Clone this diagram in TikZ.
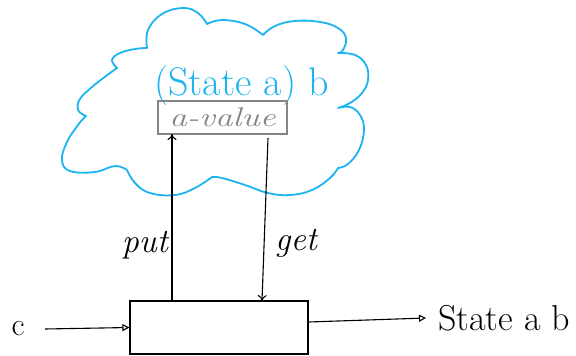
\documentclass[tikz,border=0pt]{standalone}
\usepackage{fontspec}
\setmainfont{Latin Modern Roman}
\usetikzlibrary{arrows.meta}
\definecolor{cloudblue}{HTML}{1CB4F0}
\definecolor{boxgray}{HTML}{858585}
\begin{document}
\begin{tikzpicture}[x=1pt,y=-1pt,
  wire/.style={draw=black,line width=1.1pt},
  opentip/.style={-{Triangle[open,length=7pt,width=7pt]}},
  sticktip/.style={-{To[length=6pt,width=9pt]}},
  lbl/.style={font=\fontsize{34}{38}\selectfont\itshape}]
\useasboundingbox (0,0) rectangle (576,356);
% cloud
\draw[cloudblue, line width=1.8pt, line join=round, line cap=round]
  plot[smooth, tension=0.7] coordinates {(147,48) (148,30) (162,14) (183,8) (198,13) (207,24)}
  -- plot[smooth, tension=0.7] coordinates {(207,24) (222,20) (245,24) (263,35)}
  -- plot[smooth, tension=0.7] coordinates {(263,35) (275,26) (295,21) (320,22) (338,28) (346,38) (343,50) (338,53)}
  -- plot[smooth, tension=0.7] coordinates {(338,53) (355,55) (366,65) (368,80) (362,93) (350,103) (338,108)}
  -- plot[smooth, tension=0.7] coordinates {(338,108) (350,107) (360,115) (364,130) (359,150) (348,164) (338,168)}
  -- plot[smooth, tension=0.7] coordinates {(338,168) (330,178) (312,190) (290,195) (268,193) (245,185) (222,178) (212,177)}
  -- plot[smooth, tension=0.7] coordinates {(212,177) (195,188) (175,195) (150,193) (135,183) (127,170)}
  -- plot[smooth, tension=0.7] coordinates {(127,170) (115,166) (95,172) (70,171) (62,160) (67,142) (78,125) (86,116)}
  -- plot[smooth, tension=0.7] coordinates {(86,116) (78,110) (80,99) (92,87) (106,76) (117,68)}
  -- plot[smooth, tension=0.7] coordinates {(117,68) (112,60) (120,53) (135,49) (147,48)};
\node[text=cloudblue, font=\fontsize{40}{44}\selectfont, anchor=base west, inner sep=0pt] (st) at (154,95) {(State a) b};
\node[draw=boxgray, text=boxgray, line width=1.2pt, font=\fontsize{27}{30}\selectfont\itshape,
  minimum width=129pt, minimum height=33pt, inner sep=0pt] (av) at (222.5,117.5) {\scalebox{1.3}[1]{a-value}};
\node[draw=black, line width=1.2pt, minimum width=178pt, minimum height=53pt, inner sep=0pt] (box) at (219,327.5) {};
\coordinate (pb) at (172,301);
\coordinate (pt) at (172,134);
\coordinate (gt) at (268,138);
\coordinate (gb) at (262,301);
\draw[wire, sticktip] (pb) -- (pt);
\draw[wire, sticktip] (gt) -- (gb);
\node[lbl, anchor=east, inner sep=2pt] (put) at (170,245) {put};
\node[lbl, anchor=west, inner sep=2pt] (get) at (273,243) {get};
\node[font=\fontsize{32}{36}\selectfont, anchor=base] (c) at (18,335) {c};
\coordinate (cin) at (45,329);
\draw[wire, opentip] (cin) -- (box.west);
\node[font=\fontsize{36}{40}\selectfont, anchor=base west, inner sep=0pt] (out) at (438,330) {State a b};
\coordinate (oe) at (426,318);
\draw[wire, opentip] (box.east |- 0,322) -- (oe);
\end{tikzpicture}
\end{document}
